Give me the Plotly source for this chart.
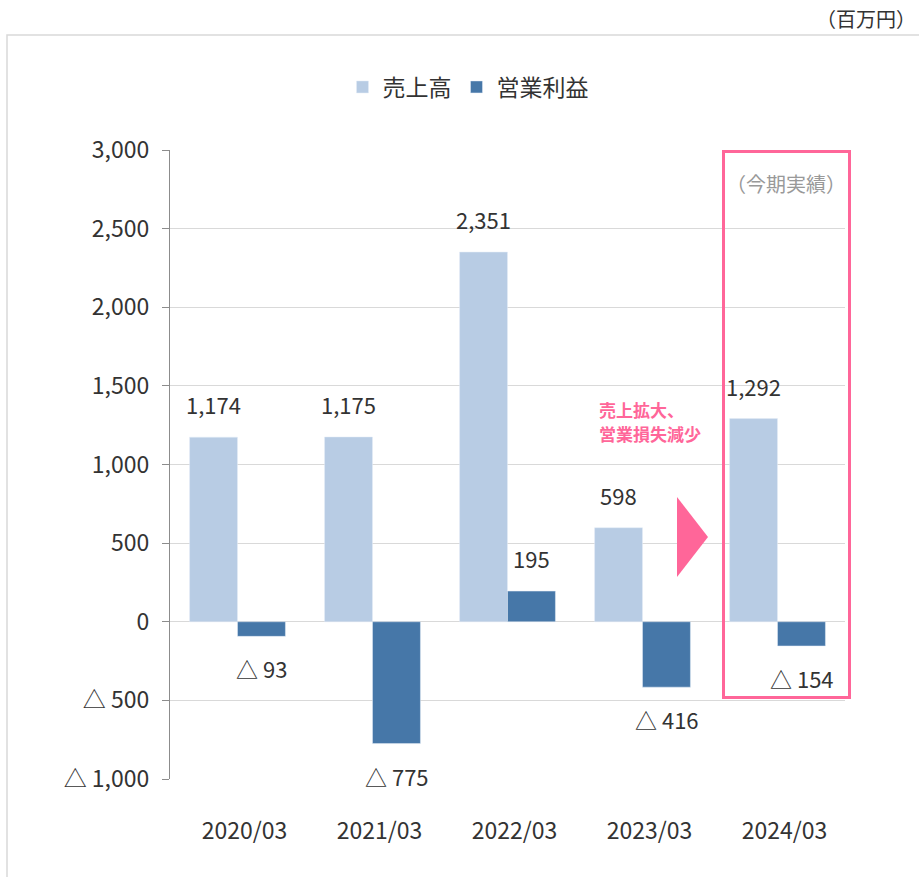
import plotly.graph_objects as go

categories = ["2020/03", "2021/03", "2022/03", "2023/03", "2024/03"]
sales = [1174, 1175, 2351, 598, 1292]
op_profit = [-93, -775, 195, -416, -154]
ytick_vals = [-1000, -500, 0, 500, 1000, 1500, 2000, 2500, 3000]
ytick_text = ["△ 1,000", "△ 500", "0", "500", "1,000", "1,500", "2,000", "2,500", "3,000"]

FONT = "Noto Sans CJK JP"
LIGHT = "#B8CCE4"
DARK = "#4677A8"
PINK = "#FF6699"
TXT = "#333333"

W, H = 919, 877
L, R, T, B = 170, 74, 150, 98
PW, PH = W - L - R, H - T - B

def px(x):
    return (x - L) / PW

def py(y):
    return (H - B - y) / PH

def fmt(v):
    return f"{v:,}" if v >= 0 else f"△ {abs(v):,}"

fig = go.Figure()
fig.add_trace(go.Bar(x=categories, y=sales, name="売上高", marker_color=LIGHT))
fig.add_trace(go.Bar(x=categories, y=op_profit, name="営業利益", marker_color=DARK))

annotations = []
for c, v in zip(categories, sales):
    annotations.append(dict(x=c, y=v, xref="x", yref="y", text=fmt(v), showarrow=False,
                            xshift=-24, yshift=33, yanchor="middle",
                            font=dict(size=22, color=TXT, family=FONT)))
for c, v in zip(categories, op_profit):
    annotations.append(dict(x=c, y=v, xref="x", yref="y", text=fmt(v), showarrow=False,
                            xshift=24, yshift=33 if v >= 0 else -32, yanchor="middle",
                            font=dict(size=22, color=TXT, family=FONT)))

annotations.append(dict(x=px(918), y=py(18), xref="paper", yref="paper", text="（百万円）",
                        showarrow=False, xanchor="right", yanchor="middle",
                        font=dict(size=20, color=TXT, family=FONT)))
annotations.append(dict(x=px(786), y=py(183), xref="paper", yref="paper", text="（今期実績）",
                        showarrow=False, xanchor="center", yanchor="middle",
                        font=dict(size=20, color="#999999", family=FONT)))
for text, yy in (("<b>売上拡大、</b>", 409), ("<b>営業損失減少</b>", 434)):
    annotations.append(dict(x=px(597), y=py(yy), xref="paper", yref="paper",
                            text=text, align="left",
                            showarrow=False, xanchor="left", yanchor="middle",
                            font=dict(size=17, color=PINK, family=FONT)))

shapes = [
    dict(type="rect", xref="paper", yref="paper", x0=px(7), x1=px(940), y0=py(35), y1=py(900),
         line=dict(color="#D9D9D9", width=1.5), layer="below"),
    dict(type="rect", xref="paper", yref="paper", x0=px(723.5), x1=px(849.5), y0=py(151.5), y1=py(697.5),
         line=dict(color=PINK, width=3)),
    dict(type="path", xref="paper", yref="paper",
         path=f"M {px(677)} {py(497)} L {px(708)} {py(537)} L {px(677)} {py(577)} Z",
         fillcolor=PINK, line=dict(width=0)),
]

fig.update_layout(
    width=W, height=H,
    margin=dict(l=L, r=R, t=T, b=B),
    paper_bgcolor="white", plot_bgcolor="white",
    barmode="group", bargap=0.29, bargroupgap=0,
    font=dict(family=FONT, color=TXT),
    legend=dict(orientation="h", x=px(468), y=py(87), xanchor="center", yanchor="middle",
                font=dict(size=23, family=FONT, color=TXT), itemwidth=30, traceorder="normal"),
    annotations=annotations,
    shapes=shapes,
)
fig.update_xaxes(showline=False, ticks="", showgrid=False,
                 tickfont=dict(size=23, family=FONT, color=TXT),
                 ticklabelstandoff=36, ticklabelshift=7)
fig.update_yaxes(range=[-1000, 3000], tickvals=ytick_vals, ticktext=ytick_text,
                 showgrid=True, gridcolor="#D9D9D9", gridwidth=1.3,
                 zeroline=True, zerolinecolor="#D9D9D9", zerolinewidth=1.3,
                 showline=True, linecolor="#8C8C8C", linewidth=1.3,
                 ticks="outside", ticklen=7, tickcolor="#8C8C8C", ticklabelstandoff=8,
                 tickfont=dict(size=23, family=FONT, color=TXT))

fig.write_html("out.html")
